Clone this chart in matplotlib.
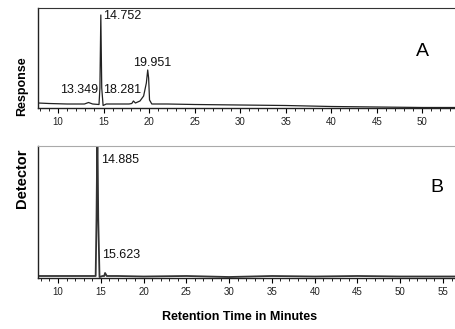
import matplotlib
matplotlib.use("Agg")
import matplotlib.pyplot as plt
from matplotlib.ticker import MultipleLocator

# Panel A trace (retention time in minutes, detector response)
time_a = [7.8, 9.0, 11.0, 12.9, 13.35, 13.8, 14.5, 14.6, 14.7, 14.8, 14.95, 15.3,
          16.0, 17.8, 18.1, 18.28, 18.5, 19.0, 19.4, 19.7, 19.85, 19.95, 20.05,
          20.3, 22.0, 25.0, 30.0, 35.0, 40.0, 45.0, 50.0, 53.6]
resp_a = [5.0, 4.5, 4.0, 4.0, 5.5, 4.0, 3.5, 20.0, 93.0, 20.0, 2.5, 4.0,
          4.0, 4.0, 4.5, 7.0, 5.0, 7.0, 12.0, 25.0, 38.0, 30.0, 8.0,
          4.0, 4.0, 3.5, 3.0, 2.5, 1.5, 1.0, 0.5, 0.5]

# Panel B trace
time_b = [7.66, 10.0, 14.4, 14.5, 14.6, 14.7, 14.85, 15.2, 15.4, 15.5, 15.7,
          17.0, 20.0, 25.0, 30.0, 35.0, 40.0, 45.0, 50.0, 56.4]
resp_b = [2.0, 2.0, 2.0, 60.0, 150.0, 60.0, 1.0, 2.0, 2.0, 5.0, 2.0,
          2.0, 1.5, 2.0, 1.0, 2.0, 1.5, 2.0, 1.5, 1.5]

# peak labels: (text, x, y, ha)
labels_a = [("14.752", 14.95, 92, "left"), ("13.349", 14.4, 18, "right"),
            ("18.281", 14.95, 18, "left"), ("19.951", 20.3, 45, "center")]
labels_b = [("14.885", 15.0, 118, "left"), ("15.623", 15.2, 23, "left")]

ticks_a = [10, 15, 20, 25, 30, 35, 40, 45, 50]
ticks_b = [10, 15, 20, 25, 30, 35, 40, 45, 50, 55]

plt.rcParams['font.family'] = ['Liberation Sans', 'DejaVu Sans']

W, H = 455, 329
fig = plt.figure(figsize=(W / 100, H / 100), dpi=100)

def px_axes(left, top, bottom):
    return fig.add_axes([left / W, 1 - bottom / H, (W - left) / W, (bottom - top) / H])

ax_a = px_axes(38, 8, 108)
ax_b = px_axes(38, 146, 278)

ax_a.plot(time_a, resp_a, color="#222222", lw=0.9)
ax_a.set_xlim(7.8, 53.6)
ax_a.set_ylim(0, 100)
ax_a.set_xticks(ticks_a)

ax_b.plot(time_b, resp_b, color="#333333", lw=1.3)
ax_b.set_xlim(7.66, 56.4)
ax_b.set_ylim(0, 132)
ax_b.set_xticks(ticks_b)

for ax in (ax_a, ax_b):
    ax.spines["right"].set_visible(False)
    ax.set_yticks([])
    ax.xaxis.set_minor_locator(MultipleLocator(1))
    ax.tick_params(axis="x", which="major", length=3.5, width=0.8, labelsize=7,
                   pad=3, labelcolor="#222222")
    ax.tick_params(axis="x", which="minor", length=2, width=0.6)
    for s in ("left", "bottom"):
        ax.spines[s].set_color("#222222")
        ax.spines[s].set_linewidth(1.0)

ax_a.spines["top"].set_color("#333333")
ax_b.spines["top"].set_color("#aaaaaa")
ax_b.spines["top"].set_linewidth(0.8)

for txt, x, y, ha in labels_a:
    ax_a.text(x, y, txt, ha=ha, va="center", fontsize=9, color="#111111")
for txt, x, y, ha in labels_b:
    ax_b.text(x, y, txt, ha=ha, va="center", fontsize=9, color="#111111")

fig.text(422 / W, 1 - 52 / H, "A", fontsize=14, ha="center", va="center")
fig.text(437 / W, 1 - 188 / H, "B", fontsize=14, ha="center", va="center")

fig.text(22 / W, 1 - 86 / H, "Response", rotation=90, fontsize=9,
         fontweight="bold", ha="center", va="center")
fig.text(22 / W, 1 - 178 / H, "Detector", rotation=90, fontsize=10.5,
         fontweight="bold", ha="center", va="center")
fig.text(240 / W, 1 - 317 / H, "Retention Time in Minutes", fontsize=9,
         fontweight="bold", ha="center", va="center")

fig.savefig("out.png", dpi=100)
